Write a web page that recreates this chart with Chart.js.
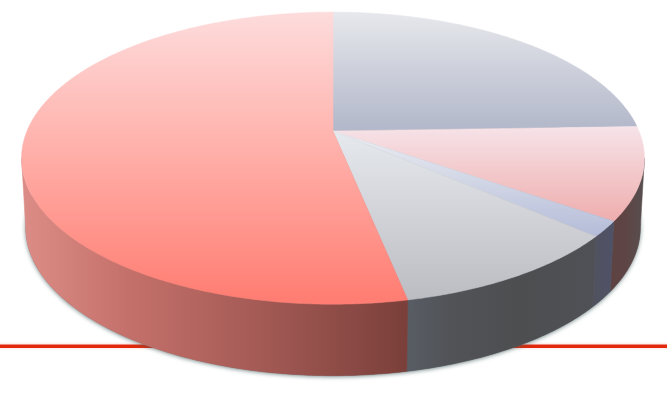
<!DOCTYPE html>
<html><head><meta charset="utf-8">
<style>html,body{margin:0;padding:0;background:#fff}canvas{display:block}</style>
<script src="https://cdn.jsdelivr.net/npm/chart.js@4"></script>
</head><body><canvas id="c" width="667" height="405"></canvas>
<script>
const categories = ['A','B','C','D','E'];
const values = [24.5, 10.2, 1.7, 10.4, 53.2];
const topColors = [
  [[12,'#e7e8ec'],[128,'#b3b8ca']],
  [[127,'#f6e3e8'],[220,'#efaeae']],
  [[131,'#eceef2'],[236,'#b4bcd8']],
  [[131,'#e6e9ed'],[298,'#bcbdc3']],
  [[12,'#fddcdc'],[150,'#ffb0aa'],[300,'#ff7d72']]
];
const wallColors = [
  [[590,'#585860'],[645,'#5a5050']],
  [[606,'#5e4242'],[625,'#5e4444'],[642,'#594e4e']],
  [[594,'#50525f'],[610,'#4f5266']],
  [[408,'#585c64'],[450,'#515357'],[520,'#4d4e50'],[597,'#505156']],
  [[22,'#dc8c86'],[130,'#c4706a'],[260,'#a45a55'],[408,'#7a3f3a']]
];
const P = {x:333, yTop:131, yBot:200, bTop:306, bBot:302, aTop:141, aBot:143, k:0.186};
const pt = (t) => {
  const u = Math.cos(t), v = Math.sin(t), w = 1 - P.k*v;
  return {tx:P.x+P.bTop*u/w, ty:P.yTop+P.aTop*v/w, bx:P.x+P.bBot*u/w, by:P.yBot+P.aBot*v/w};
};
const grad = (ctx, stops, hor) => {
  const a = stops[0][0], b = stops[stops.length-1][0];
  const g = hor ? ctx.createLinearGradient(a,0,b,0) : ctx.createLinearGradient(0,a,0,b);
  stops.forEach(s => g.addColorStop((s[0]-a)/(b-a), s[1]));
  return g;
};
const pie3d = {
  id:'pie3d',
  beforeDraw(chart){
    const c = chart.ctx;
    c.save();
    c.fillStyle='rgba(240,120,100,.10)'; c.fillRect(0,342.5,667,7);
    c.fillStyle='#e2290c'; c.fillRect(0,344.5,667,3.5);
    c.restore();
  },
  beforeDatasetDraw(chart,args){
    const c = chart.ctx, arcs = args.meta.data;
    const fr = Math.asin(P.k), fl = Math.PI - fr;
    // soft shadow of the body
    c.save();
    c.shadowColor='rgba(70,95,95,.75)'; c.shadowBlur=4; c.shadowOffsetY=1;
    c.fillStyle='#777'; c.beginPath();
    for(let i=0;i<=360;i++){const p=pt(i*Math.PI/180); i?c.lineTo(p.bx,p.by):c.moveTo(p.bx,p.by);}
    c.closePath(); c.fill();
    c.restore();
    // walls: only the part of each slice that faces the viewer
    arcs.forEach((a,i)=>{
      const t0=Math.max(a.startAngle,fr), t1=Math.min(a.endAngle,fl);
      if(t1<=t0) return;
      const n=Math.max(2,Math.ceil((t1-t0)/0.01)), d=(t1-t0)/n;
      c.save(); c.fillStyle=grad(c,wallColors[i],true);
      c.strokeStyle=c.fillStyle; c.lineWidth=.5;
      c.beginPath();
      for(let s=0;s<=n;s++){const p=pt(t0+s*d); s?c.lineTo(p.tx,p.ty):c.moveTo(p.tx,p.ty);}
      for(let s=n;s>=0;s--){const p=pt(t0+s*d); c.lineTo(p.bx,p.by);}
      c.closePath(); c.fill(); c.stroke();
      c.restore();
    });
    // top faces
    arcs.forEach((a,i)=>{
      const n=Math.max(2,Math.ceil((a.endAngle-a.startAngle)/0.01)), d=(a.endAngle-a.startAngle)/n;
      c.save(); c.fillStyle=grad(c,topColors[i],false); c.strokeStyle=c.fillStyle; c.lineWidth=.5;
      c.beginPath(); c.moveTo(P.x,P.yTop);
      for(let s=0;s<=n;s++){const p=pt(a.startAngle+s*d); c.lineTo(p.tx,p.ty);}
      c.closePath(); c.fill(); c.stroke();
      c.restore();
    });
    return false;
  }
};
new Chart(document.getElementById('c'),{
  type:'pie',
  data:{labels:categories,datasets:[{data:values,backgroundColor:['#b3b8ca','#efaeae','#b4bcd8','#bcbdc3','#ff7d72'],borderWidth:0}]},
  options:{responsive:false,animation:false,plugins:{legend:{display:false},tooltip:{enabled:false}}},
  plugins:[pie3d]
});
</script></body></html>
